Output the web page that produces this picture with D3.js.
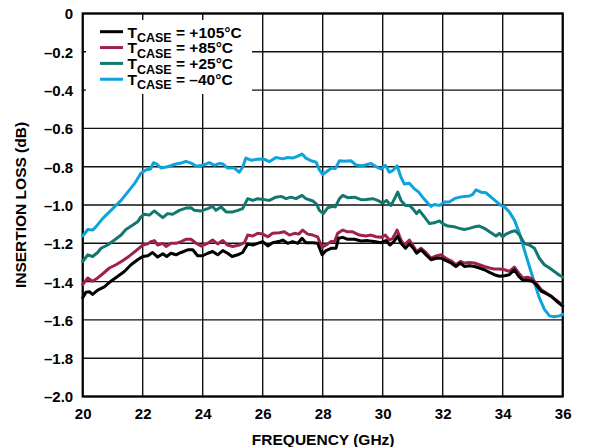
<!DOCTYPE html>
<html>
<head>
<meta charset="utf-8">
<script src="https://cdn.jsdelivr.net/npm/d3@7"></script>
<style>
  html, body { margin: 0; padding: 0; background: #fff; }
  svg { display: block; }
  text { font-family: "Liberation Sans", Arial, Helvetica, sans-serif; font-weight: bold; fill: #000; }
</style>
</head>
<body>
<svg id="chart" width="592" height="447"></svg>
<script>
// Insertion loss vs. frequency at four case temperatures
const xTicks = [20, 22, 24, 26, 28, 30, 32, 34, 36];
const xTickLabels = ["20", "22", "24", "26", "28", "30", "32", "34", "36"];
const yTicks = [0, -0.2, -0.4, -0.6, -0.8, -1.0, -1.2, -1.4, -1.6, -1.8, -2.0];
const yTickLabels = ["0", "–0.2", "–0.4", "–0.6", "–0.8", "–1.0", "–1.2", "–1.4", "–1.6", "–1.8", "–2.0"];

const seriesNames = ["+105°C", "+85°C", "+25°C", "–40°C"];
const seriesColors = ["#000000", "#a0214f", "#10786f", "#0ea3da"];

// T_CASE = +105°C
const freq105 = [20, 20.11, 20.22, 20.33, 20.5, 20.72, 20.94, 21.17, 21.39, 21.61, 21.83, 22.0, 22.17, 22.33, 22.5, 22.67, 22.8, 22.94, 23.11, 23.28, 23.5, 23.67, 23.83, 24.0, 24.17, 24.33, 24.5, 24.67, 24.83, 24.98, 25.17, 25.33, 25.5, 25.67, 25.83, 26.0, 26.17, 26.33, 26.53, 26.67, 26.83, 27.0, 27.17, 27.31, 27.44, 27.67, 27.83, 27.98, 28.11, 28.28, 28.44, 28.53, 28.67, 28.83, 29.06, 29.28, 29.5, 29.72, 29.94, 30.11, 30.24, 30.37, 30.5, 30.61, 30.76, 30.89, 31.02, 31.13, 31.28, 31.44, 31.61, 31.78, 31.94, 32.11, 32.28, 32.44, 32.59, 32.72, 32.89, 33.06, 33.22, 33.39, 33.56, 33.72, 33.89, 34.06, 34.22, 34.39, 34.53, 34.67, 34.83, 34.98, 35.11, 35.28, 35.44, 35.61, 35.78, 36.0];
const loss105 = [-1.484, -1.455, -1.453, -1.467, -1.445, -1.428, -1.398, -1.372, -1.347, -1.312, -1.286, -1.269, -1.265, -1.248, -1.272, -1.255, -1.269, -1.252, -1.26, -1.248, -1.234, -1.234, -1.265, -1.265, -1.252, -1.243, -1.26, -1.238, -1.252, -1.269, -1.26, -1.248, -1.203, -1.209, -1.2, -1.191, -1.214, -1.197, -1.191, -1.183, -1.2, -1.191, -1.2, -1.174, -1.197, -1.197, -1.2, -1.26, -1.238, -1.226, -1.226, -1.174, -1.169, -1.179, -1.179, -1.188, -1.186, -1.191, -1.197, -1.186, -1.209, -1.191, -1.162, -1.2, -1.226, -1.203, -1.226, -1.252, -1.234, -1.26, -1.286, -1.278, -1.278, -1.29, -1.303, -1.321, -1.303, -1.321, -1.317, -1.321, -1.329, -1.338, -1.352, -1.364, -1.372, -1.369, -1.364, -1.338, -1.372, -1.393, -1.393, -1.398, -1.415, -1.45, -1.462, -1.476, -1.5, -1.528];

// T_CASE = +85°C
const freq85 = [20, 20.17, 20.33, 20.5, 20.67, 20.89, 21.11, 21.33, 21.56, 21.78, 22.0, 22.17, 22.28, 22.39, 22.5, 22.67, 22.78, 22.94, 23.11, 23.28, 23.44, 23.61, 23.78, 23.94, 24.17, 24.33, 24.5, 24.67, 24.83, 25.0, 25.22, 25.39, 25.5, 25.67, 25.83, 26.0, 26.17, 26.33, 26.56, 26.72, 26.89, 27.06, 27.2, 27.33, 27.5, 27.67, 27.83, 27.98, 28.11, 28.28, 28.4, 28.5, 28.67, 28.83, 29.0, 29.22, 29.44, 29.61, 29.78, 29.94, 30.09, 30.22, 30.33, 30.48, 30.61, 30.72, 30.89, 31.0, 31.13, 31.28, 31.44, 31.61, 31.78, 31.94, 32.11, 32.28, 32.44, 32.59, 32.72, 32.89, 33.06, 33.22, 33.39, 33.56, 33.72, 33.89, 34.06, 34.22, 34.39, 34.53, 34.67, 34.83, 34.98, 35.11, 35.28, 35.44, 35.61, 35.78, 36.0];
const loss85 = [-1.415, -1.381, -1.398, -1.381, -1.359, -1.329, -1.312, -1.291, -1.266, -1.238, -1.209, -1.203, -1.191, -1.186, -1.209, -1.2, -1.217, -1.2, -1.2, -1.191, -1.179, -1.179, -1.2, -1.214, -1.2, -1.183, -1.203, -1.186, -1.209, -1.217, -1.209, -1.197, -1.157, -1.162, -1.148, -1.152, -1.166, -1.148, -1.145, -1.14, -1.157, -1.148, -1.152, -1.131, -1.152, -1.157, -1.166, -1.221, -1.209, -1.191, -1.19, -1.148, -1.131, -1.14, -1.14, -1.157, -1.162, -1.157, -1.166, -1.169, -1.157, -1.183, -1.175, -1.131, -1.183, -1.209, -1.183, -1.209, -1.243, -1.226, -1.248, -1.278, -1.266, -1.26, -1.278, -1.291, -1.312, -1.295, -1.303, -1.3, -1.303, -1.312, -1.321, -1.329, -1.334, -1.334, -1.338, -1.347, -1.324, -1.355, -1.381, -1.377, -1.386, -1.407, -1.441, -1.458, -1.476, -1.496, -1.524];

// T_CASE = +25°C
const freq25 = [20, 20.17, 20.33, 20.5, 20.61, 20.83, 21.06, 21.28, 21.44, 21.67, 21.83, 21.94, 22.06, 22.22, 22.39, 22.5, 22.67, 22.83, 23.0, 23.22, 23.44, 23.61, 23.72, 23.94, 24.17, 24.33, 24.44, 24.61, 24.78, 25.0, 25.17, 25.33, 25.5, 25.67, 25.83, 26.06, 26.22, 26.44, 26.61, 26.78, 26.94, 27.11, 27.31, 27.44, 27.67, 27.8, 27.89, 28.02, 28.17, 28.33, 28.42, 28.56, 28.67, 28.83, 29.06, 29.28, 29.44, 29.67, 29.83, 30.0, 30.13, 30.28, 30.42, 30.5, 30.61, 30.76, 30.89, 31.0, 31.13, 31.22, 31.39, 31.56, 31.72, 31.89, 32.0, 32.17, 32.39, 32.56, 32.72, 32.89, 33.06, 33.22, 33.39, 33.56, 33.78, 33.89, 34.0, 34.11, 34.28, 34.42, 34.56, 34.72, 34.89, 35.06, 35.22, 35.39, 35.56, 35.72, 35.89, 36.0];
const loss25 = [-1.295, -1.26, -1.269, -1.248, -1.226, -1.209, -1.183, -1.157, -1.128, -1.105, -1.088, -1.062, -1.048, -1.053, -1.031, -1.045, -1.066, -1.045, -1.048, -1.028, -1.016, -1.014, -1.028, -1.031, -1.019, -1.007, -1.028, -1.01, -1.036, -1.036, -1.028, -1.019, -0.967, -0.976, -0.967, -0.972, -0.976, -0.959, -0.955, -0.967, -0.959, -0.967, -0.95, -0.967, -0.979, -0.997, -1.028, -1.045, -1.014, -1.007, -1.01, -0.967, -0.95, -0.962, -0.959, -0.972, -0.971, -0.967, -0.976, -0.99, -0.976, -1.002, -0.959, -0.933, -0.976, -1.002, -1.002, -1.019, -1.045, -1.028, -1.062, -1.097, -1.093, -1.083, -1.097, -1.11, -1.114, -1.122, -1.128, -1.122, -1.114, -1.11, -1.122, -1.14, -1.162, -1.148, -1.166, -1.152, -1.14, -1.134, -1.157, -1.2, -1.209, -1.226, -1.278, -1.312, -1.329, -1.347, -1.367, -1.376];

// T_CASE = –40°C
const freqM40 = [20, 20.17, 20.33, 20.44, 20.67, 21.0, 21.28, 21.5, 21.72, 21.94, 22.1, 22.26, 22.36, 22.47, 22.61, 22.83, 23.11, 23.28, 23.44, 23.61, 23.78, 24.0, 24.22, 24.39, 24.56, 24.67, 24.83, 25.06, 25.22, 25.33, 25.44, 25.61, 25.89, 26.06, 26.22, 26.44, 26.67, 26.83, 27.0, 27.17, 27.31, 27.44, 27.61, 27.78, 27.89, 28.0, 28.17, 28.3, 28.42, 28.56, 28.72, 28.94, 29.11, 29.33, 29.61, 29.78, 29.94, 30.09, 30.22, 30.33, 30.48, 30.61, 30.72, 30.89, 31.06, 31.2, 31.33, 31.5, 31.61, 31.72, 31.89, 32.06, 32.22, 32.39, 32.56, 32.72, 32.89, 33.0, 33.11, 33.28, 33.44, 33.61, 33.78, 33.94, 34.06, 34.22, 34.39, 34.56, 34.72, 34.89, 35.06, 35.22, 35.39, 35.56, 35.72, 35.89, 36.0];
const lossM40 = [-1.162, -1.128, -1.131, -1.114, -1.07, -1.019, -0.976, -0.933, -0.89, -0.834, -0.817, -0.812, -0.779, -0.786, -0.807, -0.8, -0.786, -0.781, -0.772, -0.781, -0.797, -0.793, -0.779, -0.793, -0.783, -0.786, -0.807, -0.807, -0.829, -0.803, -0.755, -0.766, -0.76, -0.762, -0.774, -0.752, -0.759, -0.752, -0.755, -0.745, -0.734, -0.755, -0.769, -0.776, -0.817, -0.841, -0.821, -0.807, -0.81, -0.769, -0.772, -0.769, -0.791, -0.795, -0.783, -0.8, -0.812, -0.793, -0.829, -0.821, -0.795, -0.855, -0.89, -0.886, -0.916, -0.933, -0.959, -0.99, -1.007, -0.997, -1.002, -0.984, -0.984, -0.967, -0.959, -0.955, -0.953, -0.945, -0.921, -0.933, -0.936, -0.959, -0.981, -1.002, -1.01, -1.036, -1.079, -1.148, -1.234, -1.321, -1.407, -1.484, -1.545, -1.579, -1.584, -1.579, -1.571];

const series = [
  { name: seriesNames[3], color: seriesColors[3], freq: freqM40, loss: lossM40 },
  { name: seriesNames[2], color: seriesColors[2], freq: freq25, loss: loss25 },
  { name: seriesNames[1], color: seriesColors[1], freq: freq85, loss: loss85 },
  { name: seriesNames[0], color: seriesColors[0], freq: freq105, loss: loss105 }
];

const svg = d3.select("#chart");
const plot = { left: 82.7, right: 562.7, top: 13.5, bottom: 396.5 };

const x = d3.scaleLinear().domain([20, 36]).range([plot.left, plot.right]);
const y = d3.scaleLinear().domain([0, -2]).range([plot.top, plot.bottom]);

// grid
const grid = svg.append("g").attr("stroke", "#111").attr("stroke-width", 1.4);
grid.selectAll("line.v").data(xTicks).join("line")
  .attr("class", "v")
  .attr("x1", d => x(d)).attr("x2", d => x(d))
  .attr("y1", plot.top).attr("y2", plot.bottom);
grid.selectAll("line.h").data(yTicks).join("line")
  .attr("class", "h")
  .attr("x1", plot.left).attr("x2", plot.right)
  .attr("y1", d => y(d)).attr("y2", d => y(d));

// frame
svg.append("rect")
  .attr("x", plot.left).attr("y", plot.top)
  .attr("width", plot.right - plot.left).attr("height", plot.bottom - plot.top)
  .attr("fill", "none").attr("stroke", "#000").attr("stroke-width", 2.2);

// axes: labels only (grid draws the lines)
const xAxis = d3.axisBottom(x).tickValues(xTicks)
  .tickFormat((d, i) => xTickLabels[i]).tickSize(0).tickPadding(0);
const gx = svg.append("g").attr("transform", `translate(0,${plot.bottom})`).call(xAxis);
gx.select(".domain").remove();
gx.selectAll("text").attr("y", 22.8).attr("dy", null)
  .style("font-size", "15px").style("font-family", "'Liberation Sans', Arial, sans-serif")
  .style("font-weight", "bold").attr("fill", "#000");

const yAxis = d3.axisLeft(y).tickValues(yTicks)
  .tickFormat((d, i) => yTickLabels[i]).tickSize(0).tickPadding(9.5);
const gy = svg.append("g").attr("transform", `translate(${plot.left},0)`).call(yAxis);
gy.select(".domain").remove();
gy.selectAll("text").attr("dy", "0.36em")
  .style("font-size", "15px").style("font-family", "'Liberation Sans', Arial, sans-serif")
  .style("font-weight", "bold").attr("fill", "#000");

// axis titles
svg.append("text")
  .attr("x", (plot.left + plot.right) / 2 + 0.5).attr("y", 444.5)
  .attr("text-anchor", "middle").style("font-size", "15.5px")
  .text("FREQUENCY (GHz)");
svg.append("text")
  .attr("transform", `translate(25.5,${(plot.top + plot.bottom) / 2}) rotate(-90)`)
  .attr("text-anchor", "middle").style("font-size", "15.5px")
  .text("INSERTION LOSS (dB)");

// legend
const legend = svg.append("g");
legend.append("rect").attr("x", 86).attr("y", 20).attr("width", 166).attr("height", 74).attr("fill", "#fff");
const legendRows = seriesNames.map((n, i) => ({ name: n, color: seriesColors[i], i }));
const rowY = i => 31.7 + i * 15.85;
legend.selectAll("line").data(legendRows).join("line")
  .attr("x1", 100).attr("x2", 123)
  .attr("y1", d => rowY(d.i)).attr("y2", d => rowY(d.i))
  .attr("stroke", d => d.color).attr("stroke-width", 3);
const lt = legend.selectAll("text").data(legendRows).join("text")
  .attr("x", 127.5).attr("y", d => rowY(d.i) + 5.8)
  .style("font-size", "15.5px");
lt.append("tspan").text("T");
lt.append("tspan").attr("dy", 4.4).style("font-size", "12.5px").text("CASE");
lt.append("tspan").attr("dy", -4.4).text(d => " = " + d.name);

// curves
const line = d3.line().x(d => x(d[0])).y(d => y(d[1]));
svg.append("g").selectAll("path").data(series).join("path")
  .attr("d", s => line(d3.zip(s.freq, s.loss)))
  .attr("fill", "none")
  .attr("stroke", s => s.color)
  .attr("stroke-width", 3)
  .attr("stroke-linejoin", "round")
  .attr("stroke-linecap", "round");
</script>
</body>
</html>
